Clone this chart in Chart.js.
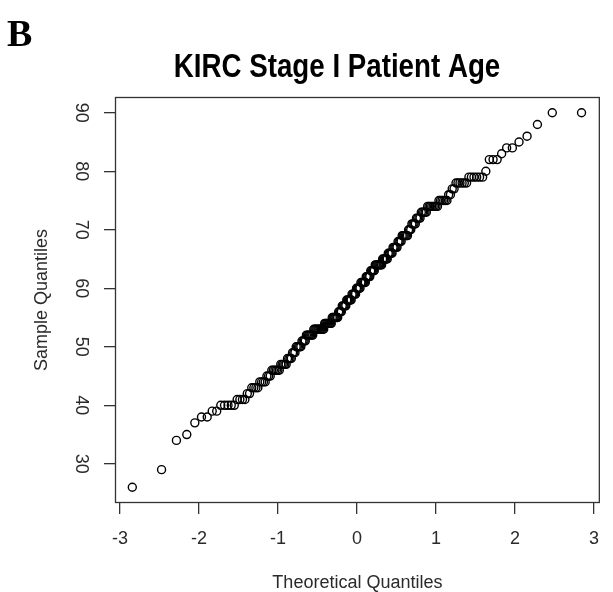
<!DOCTYPE html>
<html lang="en">
<head>
    <meta charset="UTF-8">
    <title>KIRC Stage I Patient Age</title>
    <script src="https://cdn.jsdelivr.net/npm/chart.js"></script>
    <style>
        body { margin: 0; background: #fff; }
    </style>
</head>
<body>
    <canvas id="qqChart" width="613" height="592"></canvas>

    <script>
        // Patient ages (years) and how many patients had each age
        const ages = [26, 29, 34, 35, 37, 38, 39, 40, 41, 42, 43, 44, 45, 46, 47, 48, 49,
                      50, 51, 52, 53, 54, 55, 56, 57, 58, 59, 60, 61, 62, 63, 64, 65, 66, 67, 68, 69,
                      70, 71, 72, 73, 74, 75, 76, 77, 78, 79, 80, 82, 83, 84, 85, 86, 88, 90];
        const ageCounts = [1, 1, 1, 1, 1, 2, 2, 5, 4, 2, 4, 4, 3, 6, 5, 4, 3,
                           5, 4, 7, 11, 8, 7, 4, 5, 6, 5, 5, 6, 5, 5, 8, 6, 5, 5, 4, 6,
                           3, 4, 4, 5, 8, 6, 2, 2, 6, 6, 1, 3, 1, 2, 1, 1, 1, 2];

        // Axis tick labels
        const xTicks = [-3, -2, -1, 0, 1, 2, 3];
        const yTicks = [30, 40, 50, 60, 70, 80, 90];

        // Inverse normal CDF (Acklam's approximation), used for the theoretical quantiles
        function qnorm(p) {
            const a = [-3.969683028665376e+01, 2.209460984245205e+02, -2.759285104469687e+02,
                       1.383577518672690e+02, -3.066479806614716e+01, 2.506628277459239e+00];
            const b = [-5.447609879822406e+01, 1.615858368580409e+02, -1.556989798598866e+02,
                       6.680131188771972e+01, -1.328068155288572e+01];
            const c = [-7.784894002430293e-03, -3.223964580411365e-01, -2.400758277161838e+00,
                       -2.549732539343734e+00, 4.374664141464968e+00, 2.938163982698783e+00];
            const d = [7.784695709041462e-03, 3.224671290700398e-01, 2.445134137142996e+00,
                       3.754408661907416e+00];
            const pLow = 0.02425;
            let q, r;
            if (p < pLow) {
                q = Math.sqrt(-2 * Math.log(p));
                return (((((c[0] * q + c[1]) * q + c[2]) * q + c[3]) * q + c[4]) * q + c[5]) /
                       ((((d[0] * q + d[1]) * q + d[2]) * q + d[3]) * q + 1);
            }
            if (p <= 1 - pLow) {
                q = p - 0.5;
                r = q * q;
                return (((((a[0] * r + a[1]) * r + a[2]) * r + a[3]) * r + a[4]) * r + a[5]) * q /
                       (((((b[0] * r + b[1]) * r + b[2]) * r + b[3]) * r + b[4]) * r + 1);
            }
            q = Math.sqrt(-2 * Math.log(1 - p));
            return -(((((c[0] * q + c[1]) * q + c[2]) * q + c[3]) * q + c[4]) * q + c[5]) /
                    ((((d[0] * q + d[1]) * q + d[2]) * q + d[3]) * q + 1);
        }

        // Sorted sample, then pair with qnorm(ppoints(n)) like R's qqnorm
        const sample = [];
        ages.forEach((age, i) => {
            for (let k = 0; k < ageCounts[i]; k++) sample.push(age);
        });
        const n = sample.length;
        const points = sample.map((age, i) => ({ x: qnorm((i + 1 - 0.5) / n), y: age }));

        const textColor = '#2a2a2a';
        const lineColor = '#333';
        const baseFont = "'Liberation Sans', Arial, sans-serif";

        // Frame around the plot region plus the panel letter and the title
        const framePlugin = {
            id: 'frame',
            afterDraw(chart) {
                const { ctx, chartArea } = chart;
                ctx.save();
                ctx.strokeStyle = lineColor;
                ctx.lineWidth = 1.3;
                ctx.strokeRect(chartArea.left + 0.5, chartArea.top + 0.5,
                               chartArea.right - chartArea.left - 1, chartArea.bottom - chartArea.top - 1);

                ctx.fillStyle = '#000';
                ctx.textBaseline = 'alphabetic';
                ctx.textAlign = 'left';
                ctx.font = "bold 38px 'Liberation Serif', 'Times New Roman', serif";
                ctx.fillText('B', 7, 46);

                // title font is a condensed bold sans, so squeeze it horizontally
                ctx.textAlign = 'center';
                ctx.font = "bold 33px 'Liberation Sans', Arial, sans-serif";
                ctx.translate(337, 77);
                ctx.scale(0.84, 1);
                ctx.fillText('KIRC Stage I Patient Age', 0, 0);
                ctx.restore();
            }
        };

        const config = {
            type: 'scatter',
            data: {
                datasets: [{
                    label: 'Sample',
                    data: points,
                    pointStyle: 'circle',
                    pointRadius: 4,
                    pointHoverRadius: 4,
                    borderWidth: 1.4,
                    borderColor: '#000',
                    backgroundColor: 'rgba(0,0,0,0)'
                }]
            },
            options: {
                responsive: false,
                animation: false,
                layout: { padding: { top: 97, right: 7, left: 0, bottom: 0 } },
                plugins: {
                    legend: { display: false },
                    tooltip: { enabled: false },
                    title: { display: false }
                },
                scales: {
                    x: {
                        type: 'linear',
                        position: 'bottom',
                        min: -3.0625,
                        max: 3.075,
                        afterBuildTicks: scale => { scale.ticks = xTicks.map(v => ({ value: v })); },
                        afterFit: scale => { scale.height = 89; },
                        border: { display: false },
                        grid: { drawOnChartArea: false, drawTicks: true, tickLength: 11, tickColor: lineColor, lineWidth: 1.3 },
                        ticks: { autoSkip: false, maxRotation: 0, padding: 14, color: textColor,
                                 font: { family: baseFont, size: 18 } },
                        title: { display: true, text: 'Theoretical Quantiles', color: textColor,
                                 font: { family: baseFont, size: 18, lineHeight: 1 }, padding: { top: 0, bottom: 0 } }
                    },
                    y: {
                        type: 'linear',
                        min: 23.3,
                        max: 92.7,
                        afterBuildTicks: scale => { scale.ticks = yTicks.map(v => ({ value: v })); },
                        afterFit: scale => { scale.width = 115; },
                        border: { display: false },
                        grid: { drawOnChartArea: false, drawTicks: true, tickLength: 11, tickColor: lineColor, lineWidth: 1.3 },
                        ticks: { autoSkip: false, minRotation: -90, crossAlign: 'center', padding: 13, color: textColor,
                                 font: { family: baseFont, size: 18 } },
                        title: { display: true, text: 'Sample Quantiles', color: textColor,
                                 font: { family: baseFont, size: 18, lineHeight: 1 }, padding: { top: 33, bottom: 0 } }
                    }
                }
            },
            plugins: [framePlugin]
        };

        const ctx = document.getElementById('qqChart').getContext('2d');
        const qqChart = new Chart(ctx, config);
    </script>
</body>
</html>
